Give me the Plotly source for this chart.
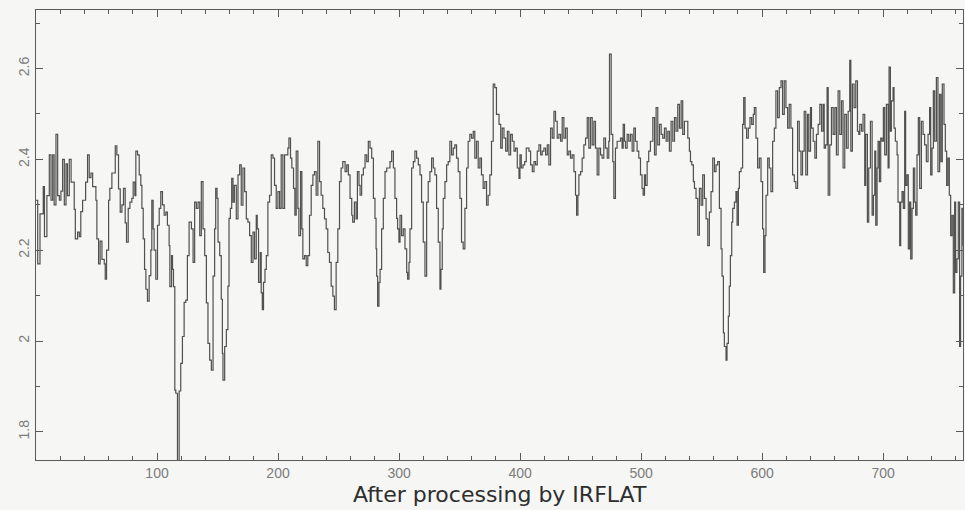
import plotly.graph_objects as go

# Pixel channel along the slit and the flat-fielded signal in each channel
channel = [
    0, 1.4, 3.3, 6, 7, 9, 11, 12.4, 13.8, 15, 16.5, 17.9, 19.3, 20.6, 22, 23.4, 24.8, 26, 27.5, 29,
    31.6, 32.5, 34.4, 35.8, 37, 38.5, 41, 42.6, 44, 45.4, 46.8, 48, 49.5, 50.3, 51.7, 53, 54.5, 56.4, 57.2, 58.3,
    60, 61, 62.7, 64, 65.5, 66.8, 68.2, 69.6, 71, 72.3, 73.7, 74.8, 76.2, 77.6, 79.2, 80.3, 81.7, 82.5, 83.9, 85.3,
    86.6, 87.5, 88.6, 89.7, 90.8, 92.1, 93.5, 94.9, 95.7, 96.8, 97.6, 99, 100.4, 101.8, 103.1, 104.5, 105.9, 107.3, 108.6, 110,
    110.6, 112, 112.8, 113.6, 114.7, 115.5, 116.9, 118.3, 119.6, 121, 122.4, 123.8, 125.1, 126.5,
    127, 128.4, 129.8, 131.1, 132.5, 133.9, 135.3, 136.6, 138, 139.4, 140.8, 142.1, 143.5, 144.9, 146.3, 147.6, 148.5, 149.6, 150.4, 151.8,
    153.1, 154, 154.5, 155.9, 157.3, 158.6, 159.5, 160.6, 161.7, 162.8, 163.9, 165.5, 166.9, 168.3, 169.6, 171, 172.4, 173.8, 175.1, 176.5,
    177.9, 179.3, 180.6, 182, 182.8, 183.9, 185.3, 186.1, 187, 188, 189.2, 190.3, 191.6, 193, 194.4, 195.8, 197.1, 198.5, 199.9, 201.3,
    202.6, 204, 205.4, 206.8, 208.1, 209, 210.3, 211.4, 212.8, 213.9, 215, 216.4, 217.2, 218.6, 219.7, 220.5, 221.9, 223.3, 224.6, 226,
    227.4, 228.8, 230.1, 231.5, 232.9, 234.3, 235.6, 237, 238.4, 239.8, 241.1, 242.5, 243.9, 245.3, 246.6, 248, 249.4, 250.8, 252.1, 253.5,
    255.4, 256.8, 258.1, 259.5, 260.9, 261.7, 263.1, 264.5, 265.6, 266.9, 267.8, 269.1, 270.5, 271.9, 273.3, 274.6, 276, 277.4, 278.8, 280.1,
    281, 281.5, 282.3, 283.4, 284.3, 285.6, 287, 288.4, 289.8, 291.1, 292.5, 293.9, 295.3, 296.6, 298, 298.8, 299.9, 300.8, 302.1, 303.5,
    304.9, 306.3, 307.1, 308.2, 309, 310.4, 311.8, 313.1, 314.5, 315.9, 317.3, 318.6, 320, 321.4, 322.8, 324.1, 325.5, 326.9, 328.3, 329.6,
    331, 332.4, 333.8, 334.6, 335.7, 336.5, 337.9, 339.3, 340.6, 342, 343.4, 344.8, 346.1, 347.5, 348.9, 350.3, 351.6, 353, 354.4, 355.8,
    357.1, 358.5, 359.9, 361.3, 362.6, 364, 365.4, 366.8, 368.1, 369.5, 370.9, 372.3, 373.6, 375, 376.4, 377.8, 379.1, 380.5,
    382.6, 384, 385.3, 386.7, 388.1, 389.5, 390.8, 392.2, 393.6, 395, 396.3, 397.7, 399.1, 399.9, 401, 402.4, 403.8, 405.1, 407.3, 408.7,
    410.1, 411.5, 412.8, 414.2, 415.6, 417, 418.3, 419.7, 421.1, 422.5, 423.8, 425.2, 426.6, 428, 429.3, 430.7, 432.1, 433.5, 434.8, 436.2,
    437.6, 439, 440.3, 441.7, 443.1, 444.5, 445.8, 446.7, 447.8, 448.6, 450, 451.3, 452.7, 454.1, 455.5, 456.8, 458.2, 459.6, 461, 462.3,
    463.7, 465.1, 466.5, 467.8, 469.2, 470.6, 472, 473.3, 473.9, 475.3, 476.6, 477.5, 478.8, 480.2, 481.6, 483, 484.3, 485.2, 486.3, 487.1,
    488.5, 489.8, 491.2, 492.6, 494, 495.3, 496.7, 498.1, 499.5, 500.8, 501.7, 502.8, 503.6, 505, 506.3, 507.7,
    509.7, 511.1, 512.4, 513.8, 515.2, 516.6, 517.9, 519.3, 520.7, 522.1, 523.4, 524.8, 526.2, 527.6, 528.9, 530.3, 531.7, 533.1, 534.4, 535.8,
    537.2, 538.6, 539.9, 540.8, 541.9, 543.2, 544.1, 545.4, 546.8, 548.2, 549.6, 550.9, 552.3, 553.7, 555.1, 556.4, 557.8, 559.2, 560.6, 561.9,
    563.3, 564.7, 566.1, 566.9, 568, 568.8, 570.2, 571, 572.1, 572.9, 573.8, 574.9, 575.7, 577.1, 578.4, 579.3, 580.4, 581.2, 582.6, 583.9,
    584.8, 585.9, 587.2, 588.6, 590, 591.4, 592.7, 593.6, 594.9, 596.3, 597.7, 599.1, 600.4, 601.3, 602.4, 603.2, 604.6, 605.9, 607.3, 608.7,
    610.1, 611.4, 612.8, 614.2, 615.6, 616.9, 618.3, 619.7, 621.1, 622.4, 623.8, 625.2, 626.6, 627.9, 629.3, 630.7, 632.1, 633.4, 634.8,
    636.1, 637.5, 638.6, 640, 640.8, 642.2, 643.6, 644.9, 646.3, 647.7, 649.1, 650.4, 651.3, 652.4, 653.7, 654.6, 655.9, 657.3, 658.7, 660.1,
    661.4, 662.8, 664.2, 665.6, 666.9, 668.3, 669.7, 671.1, 672.4, 673.3, 674.6, 676, 677.4, 678.8, 679.9, 680.7, 682.1, 683.4, 684.8, 685.6,
    687, 688.1, 689.5, 690.9, 692, 693.1, 693.9, 695, 695.8, 696.9, 698, 699.1, 700.2, 701.3, 702.7, 704.1, 704.9, 706, 706.8, 708.2,
    709, 710.1, 711.5, 712.3, 713.7, 714.5, 715.6, 716.7, 717.8, 718.6, 719.7, 720.8, 721.9, 722.8, 723.9, 725, 726.1, 726.9, 728, 729.1,
    730.2, 731.6, 733, 734.3, 735.7, 737.1, 738.4, 739.3, 740.4, 741.5, 742.6, 744, 745.3, 746.7, 747.8, 748.9, 750.3, 751.4, 752.5, 753.6,
    754.7, 755.8, 756.9, 758, 759.1, 759.9, 761, 762.1, 763.2, 764, 765.1, 766.2,
]

signal = [
    2.31, 2.17, 2.28, 2.34, 2.23, 2.32, 2.41, 2.31, 2.41, 2.30, 2.455, 2.32, 2.31, 2.33, 2.40, 2.30, 2.39, 2.32, 2.40, 2.35,
    2.29, 2.225, 2.24, 2.23, 2.285, 2.31, 2.35, 2.41, 2.36, 2.37, 2.34, 2.34, 2.31, 2.225, 2.17, 2.22, 2.18, 2.17, 2.136, 2.20,
    2.31, 2.336, 2.37, 2.37, 2.43, 2.41, 2.335, 2.284, 2.30, 2.336, 2.26, 2.218, 2.292, 2.306, 2.314, 2.35, 2.32, 2.418, 2.41, 2.366,
    2.343, 2.292, 2.225, 2.158, 2.114, 2.088, 2.144, 2.20, 2.31, 2.247, 2.20, 2.136, 2.255, 2.292, 2.329, 2.30, 2.277, 2.284, 2.255, 2.21,
    2.12, 2.188, 2.158, 2.12, 1.892, 1.885, 1.72, 1.89, 1.951, 2.01, 2.085, 2.09, 2.188, 2.262,
    2.262, 2.247, 2.173, 2.306, 2.292, 2.306, 2.232, 2.351, 2.247, 2.188, 2.084, 1.995, 1.958, 1.936, 2.143, 2.247, 2.336, 2.314, 2.218, 2.188,
    2.092, 1.973, 1.914, 1.988, 2.025, 2.121, 2.27, 2.292, 2.358, 2.306, 2.343, 2.269, 2.366, 2.388, 2.299, 2.381, 2.329, 2.269, 2.262, 2.232,
    2.173, 2.24, 2.181, 2.277, 2.247, 2.129, 2.195, 2.106, 2.069, 2.129, 2.158, 2.188, 2.306, 2.321, 2.41, 2.403, 2.343, 2.292, 2.329, 2.292,
    2.41, 2.292, 2.41, 2.41, 2.425, 2.447, 2.403, 2.381, 2.336, 2.277, 2.418, 2.292, 2.232, 2.373, 2.247, 2.181, 2.188, 2.166, 2.188, 2.277,
    2.343, 2.366, 2.373, 2.321, 2.44, 2.351, 2.321, 2.292, 2.269, 2.247, 2.195, 2.173, 2.121, 2.099, 2.069, 2.173, 2.247, 2.351, 2.381, 2.395,
    2.373, 2.388, 2.366, 2.314, 2.277, 2.262, 2.306, 2.269, 2.373, 2.343, 2.321, 2.366, 2.381, 2.41, 2.395, 2.44, 2.425, 2.403, 2.314, 2.27,
    2.203, 2.143, 2.077, 2.129, 2.158, 2.247, 2.314, 2.373, 2.381, 2.381, 2.395, 2.418, 2.381, 2.314, 2.27, 2.247, 2.218, 2.277, 2.232, 2.247,
    2.203, 2.151, 2.136, 2.173, 2.247, 2.381, 2.395, 2.418, 2.403, 2.388, 2.366, 2.306, 2.218, 2.143, 2.306, 2.351, 2.373, 2.403, 2.381, 2.366,
    2.292, 2.218, 2.114, 2.158, 2.247, 2.314, 2.351, 2.388, 2.395, 2.44, 2.41, 2.425, 2.432, 2.403, 2.373, 2.314, 2.218, 2.203, 2.292, 2.381,
    2.44, 2.455, 2.447, 2.462, 2.403, 2.44, 2.381, 2.403, 2.366, 2.336, 2.351, 2.299, 2.321, 2.366, 2.44, 2.566, 2.558, 2.499,
    2.477, 2.425, 2.469, 2.447, 2.418, 2.462, 2.41, 2.455, 2.44, 2.418, 2.425, 2.381, 2.358, 2.41, 2.381, 2.388, 2.395, 2.425, 2.418, 2.388,
    2.373, 2.395, 2.388, 2.418, 2.432, 2.41, 2.418, 2.425, 2.41, 2.432, 2.388, 2.469, 2.447, 2.506, 2.484, 2.447, 2.455, 2.44, 2.492, 2.447,
    2.469, 2.41, 2.418, 2.403, 2.41, 2.373, 2.321, 2.277, 2.321, 2.366, 2.373, 2.403, 2.432, 2.447, 2.492, 2.425, 2.492, 2.432, 2.484, 2.425,
    2.366, 2.425, 2.41, 2.403, 2.447, 2.425, 2.403, 2.44, 2.632, 2.455, 2.395, 2.314, 2.425, 2.44, 2.44, 2.447, 2.425, 2.477, 2.44, 2.425,
    2.455, 2.44, 2.455, 2.418, 2.469, 2.44, 2.418, 2.403, 2.366, 2.336, 2.321, 2.366, 2.343, 2.395, 2.418, 2.44,
    2.492, 2.41, 2.514, 2.432, 2.477, 2.455, 2.447, 2.469, 2.44, 2.462, 2.418, 2.484, 2.44, 2.492, 2.462, 2.521, 2.469, 2.529, 2.455, 2.484,
    2.484, 2.447, 2.418, 2.395, 2.388, 2.351, 2.336, 2.314, 2.233, 2.336, 2.299, 2.366, 2.314, 2.269, 2.21, 2.284, 2.329, 2.403, 2.373, 2.388,
    2.395, 2.292, 2.203, 2.143, 2.018, 1.988, 1.958, 1.995, 2.055, 2.121, 2.188, 2.262, 2.292, 2.306, 2.329, 2.255, 2.336, 2.373, 2.381, 2.477,
    2.536, 2.469, 2.447, 2.469, 2.492, 2.477, 2.499, 2.514, 2.447, 2.381, 2.403, 2.351, 2.247, 2.151, 2.232, 2.321, 2.403, 2.381, 2.329, 2.44,
    2.469, 2.551, 2.492, 2.558, 2.573, 2.499, 2.573, 2.514, 2.469, 2.521, 2.469, 2.366, 2.351, 2.336, 2.484, 2.418, 2.366, 2.418, 2.506,
    2.366, 2.499, 2.418, 2.514, 2.469, 2.44, 2.403, 2.455, 2.477, 2.521, 2.462, 2.521, 2.425, 2.432, 2.558, 2.321, 2.432, 2.514, 2.455, 2.514,
    2.41, 2.551, 2.455, 2.529, 2.381, 2.499, 2.425, 2.506, 2.618, 2.418, 2.566, 2.514, 2.573, 2.462, 2.455, 2.477, 2.462, 2.499, 2.343, 2.455,
    2.262, 2.381, 2.484, 2.277, 2.321, 2.418, 2.255, 2.381, 2.44, 2.351, 2.447, 2.44, 2.514, 2.41, 2.521, 2.381, 2.603, 2.462, 2.529, 2.558,
    2.469, 2.44, 2.41, 2.306, 2.21, 2.306, 2.329, 2.292, 2.506, 2.343, 2.366, 2.203, 2.306, 2.181, 2.292, 2.381, 2.306, 2.277, 2.41, 2.492,
    2.336, 2.484, 2.455, 2.432, 2.395, 2.455, 2.514, 2.366, 2.425, 2.551, 2.44, 2.58, 2.373, 2.543, 2.395, 2.566, 2.477, 2.418, 2.343, 2.403,
    2.321, 2.232, 2.277, 2.106, 2.306, 2.151, 2.181, 2.306, 1.988, 2.143, 2.292, 2.21,
]

x_tick_values = [100, 200, 300, 400, 500, 600, 700]
y_tick_values = [1.8, 2.0, 2.2, 2.4, 2.6]
y_tick_labels = ["1.8", "2", "2.2", "2.4", "2.6"]
title_text = "After processing by IRFLAT"

paper = "#f6f6f4"
ink = "#505050"
frame = "#5a5a5a"
label_grey = "#7c7c7c"

fig = go.Figure(
    go.Scatter(
        x=channel,
        y=signal,
        mode="lines",
        line=dict(shape="hv", color=ink, width=1.2),
        hoverinfo="skip",
    )
)

axis_common = dict(
    showline=True,
    linecolor=frame,
    linewidth=1,
    mirror="ticks",
    ticks="inside",
    tickcolor=frame,
    tickwidth=1,
    ticklen=7,
    showgrid=False,
    zeroline=False,
    tickfont=dict(family="Liberation Sans, Arial, sans-serif", size=14, color=label_grey),
)

fig.update_xaxes(
    range=[0, 766],
    tickvals=x_tick_values,
    minor=dict(dtick=20, tick0=0, ticks="inside", ticklen=4, tickcolor=frame, showgrid=False),
    **axis_common,
)
fig.update_yaxes(
    range=[1.738, 2.729],
    tickvals=y_tick_values,
    ticktext=y_tick_labels,
    tickangle=-90,
    minor=dict(dtick=0.1, tick0=0, ticks="inside", ticklen=4, tickcolor=frame, showgrid=False),
    **axis_common,
)

# Caption underneath the frame
fig.add_annotation(
    text=title_text,
    xref="paper",
    yref="paper",
    x=0.5,
    y=-0.109,
    xanchor="center",
    yanchor="bottom",
    showarrow=False,
    font=dict(family="DejaVu Sans, sans-serif", size=22, color="#2e2e2e"),
)

fig.update_layout(
    width=965,
    height=510,
    margin=dict(l=36, r=2, t=10, b=50),
    paper_bgcolor=paper,
    plot_bgcolor=paper,
    showlegend=False,
)

fig.write_html("out.html")
